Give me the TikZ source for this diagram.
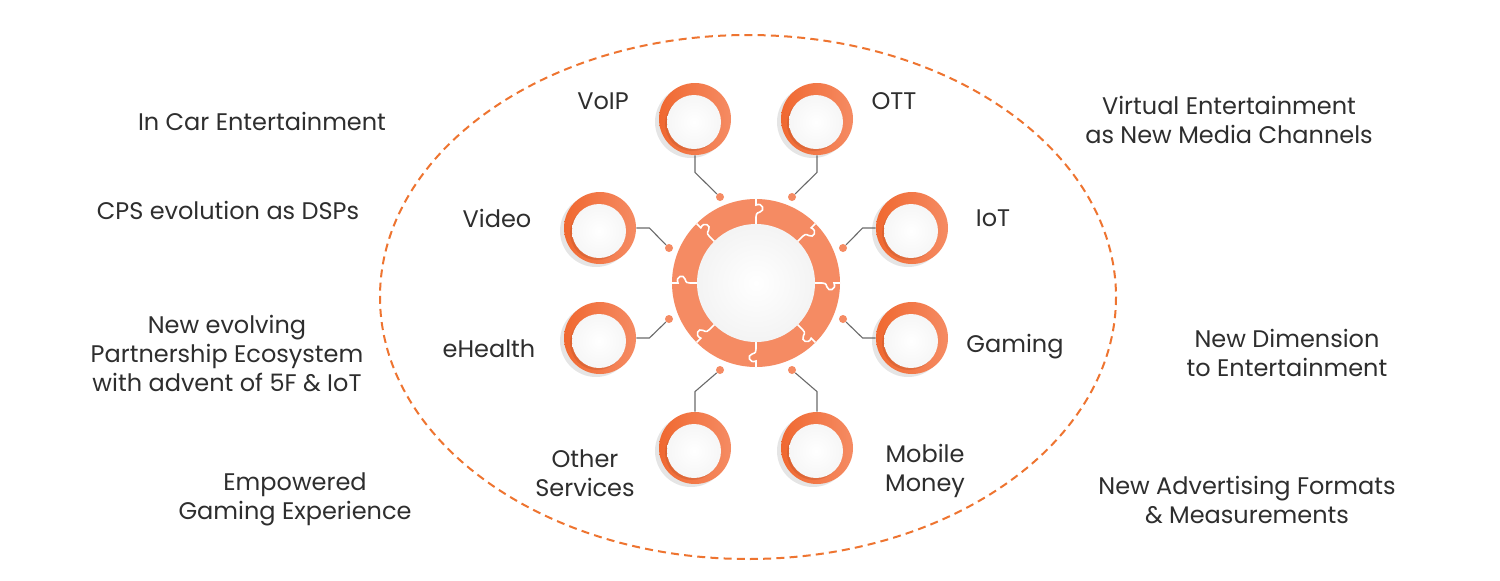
\documentclass[tikz,border=0pt]{standalone}
\usepackage{fontspec}
\setmainfont{Poppins}
\usetikzlibrary{shadows}
\definecolor{ringorange}{HTML}{F58B63}
\definecolor{deeporange}{HTML}{F06830}
\definecolor{dashorange}{HTML}{EE7430}
\definecolor{linkgray}{HTML}{6A6A6A}
\definecolor{textgray}{HTML}{2E2E2E}
\tikzset{
  label text/.style={font=\fontsize{12}{14.5}\selectfont, text=textgray, align=center, inner sep=0pt},
  bubble/.style={circle, minimum size=36pt, inner sep=0pt, left color=deeporange, right color=ringorange,
    drop shadow={shadow xshift=-2pt, shadow yshift=-1.5pt, opacity=.1, fill=black}},
  knob/.style={circle, minimum size=27pt, inner sep=0pt, inner color=white, outer color=gray!7,
    drop shadow={shadow xshift=-1pt, shadow yshift=-1pt, opacity=.25, fill=deeporange!70!black}},
  dot/.style={circle, fill=ringorange, minimum size=4pt, inner sep=0pt},
  link/.style={draw=linkgray, line width=.55pt},
}
\begin{document}
\begin{tikzpicture}[x=.5pt, y=-.5pt]
  \fill[white] (0,0) rectangle (1500,580);
  \useasboundingbox (0,0) rectangle (1500,580);
  % outer dashed ellipse
  \draw[dashorange, line width=1pt, dash pattern=on 4pt off 2.6pt] (748,297) ellipse [x radius=368, y radius=262];
  % hub
  \node[circle, fill=ringorange, minimum size=84pt, inner sep=0pt] (hub) at (756,283) {};
  \node[circle, minimum size=59pt, inner sep=0pt, inner color=white, outer color=gray!9] (core) at (756,283) {};
  \foreach \a in {0,45,...,315}{
    \begin{scope}[shift={(756,283)}, rotate=\a]
      \draw[white, line width=.8pt] (0,-84) -- (0,-78) .. controls (7,-81) and (9,-72) .. (4,-71)
        .. controls (0,-70) and (0,-68) .. (0,-66) -- (0,-59);
    \end{scope}
  }
  % bubbles
  \node[bubble] (voip) at (695,119) {};
  \node[bubble] (ott) at (817,119) {};
  \node[bubble] (video) at (600,228) {};
  \node[bubble] (iot) at (912,228) {};
  \node[bubble] (ehealth) at (600,338) {};
  \node[bubble] (gaming) at (912,338) {};
  \node[bubble] (other) at (695,448) {};
  \node[bubble] (money) at (817,448) {};
  \foreach \b in {voip,ott,video,iot,ehealth,gaming,other,money}
    \node[knob] at ([shift={(-1,3)}]\b.center) {};
  % dots
  \node[dot] (dvoip) at (720,197) {};
  \node[dot] (dott) at (792,197) {};
  \node[dot] (dvideo) at (669,248) {};
  \node[dot] (diot) at (843,248) {};
  \node[dot] (dehealth) at (669,319) {};
  \node[dot] (dgaming) at (843,319) {};
  \node[dot] (dother) at (720,370) {};
  \node[dot] (dmoney) at (792,370) {};
  % connectors
  \draw[link] (voip.south) -- ++(0,17) -- (dvoip);
  \draw[link] (ott.south) -- ++(0,17) -- (dott);
  \draw[link] (video.east) -- ++(13,0) -- (dvideo);
  \draw[link] (iot.west) -- ++(-13,0) -- (diot);
  \draw[link] (ehealth.east) -- ++(13,0) -- (dehealth);
  \draw[link] (gaming.west) -- ++(-13,0) -- (dgaming);
  \draw[link] (other.north) -- ++(0,-20) -- (dother);
  \draw[link] (money.north) -- ++(0,-20) -- (dmoney);
  % inner labels
  \node[label text] (lvoip) at (603,101) {VoIP};
  \node[label text] (lott) at (894,101) {OTT};
  \node[label text] (lvideo) at (497,218) {Video};
  \node[label text] (liot) at (993,218) {IoT};
  \node[label text] (lehealth) at (489,349) {eHealth};
  \node[label text] (lgaming) at (1015,347) {Gaming};
  \node[label text] (lother) at (585,473) {Other\\Services};
  \node[label text] (lmoney) at (925,471) {Mobile\\Money};
  % outer labels
  \node[label text] (car) at (262,121) {In Car Entertainment};
  \node[label text] (cps) at (228,210) {CPS evolution as DSPs};
  \node[label text] (partner) at (227,354) {New evolving\\Partnership Ecosystem\\with advent of 5F \& IoT};
  \node[label text] (empower) at (295,499) {Empowered\\Gaming Experience};
  \node[label text] (virtual) at (1229,120) {Virtual Entertainment\\as New Media Channels};
  \node[label text] (dimension) at (1287,353) {New Dimension\\to Entertainment};
  \node[label text] (advert) at (1247,500) {New Advertising Formats\\\& Measurements};
\end{tikzpicture}
\end{document}
